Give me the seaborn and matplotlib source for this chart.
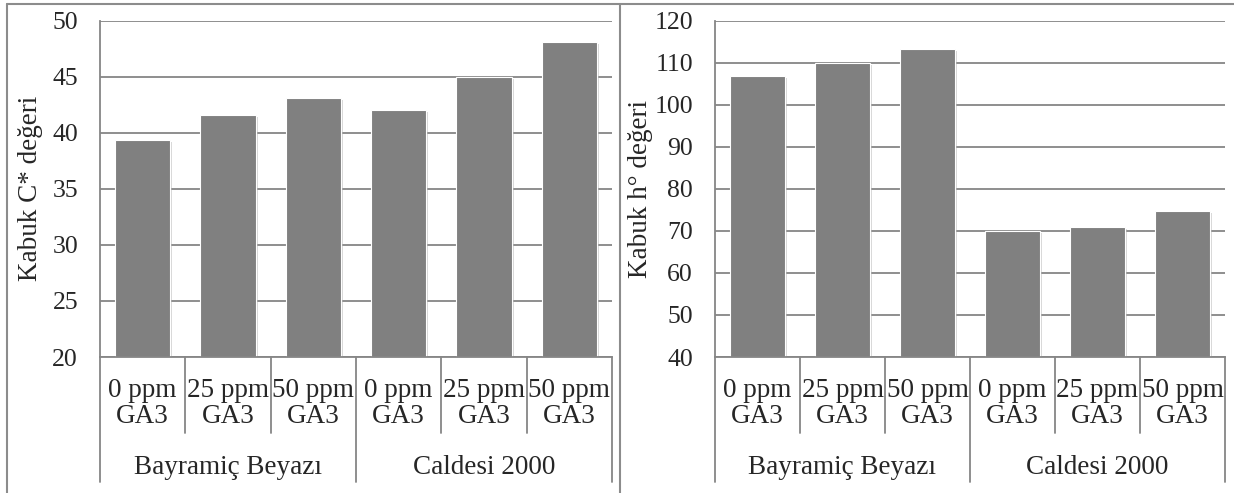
import numpy as np
import pandas as pd
import matplotlib
matplotlib.use("Agg")
import matplotlib.pyplot as plt
import matplotlib.patheffects as pe
import matplotlib.transforms as mtrans
from matplotlib.lines import Line2D
import seaborn as sns

# data
cultivars = ["Bayramiç Beyazı", "Caldesi 2000"]
doses = ["0 ppm\nGA3", "25 ppm\nGA3", "50 ppm\nGA3"]
chroma = [39.4, 41.6, 43.1, 42.0, 45.0, 48.1]
hue_angle = [106.8, 109.9, 113.3, 70.0, 71.0, 74.7]

sns.set_style("white")
plt.rcParams["font.family"] = ["Liberation Serif", "DejaVu Serif"]

df = pd.DataFrame({
    "cultivar": np.repeat(cultivars, len(doses)),
    "dose": doses * len(cultivars),
    "C": chroma,
    "h": hue_angle,
})
df["grp"] = df["cultivar"] + " / " + df["dose"]

grey = "#868686"
fs = 19.5
W, H = 1234, 493
fig = plt.figure(figsize=(W / 100, H / 100), dpi=100)


def panel(left, right, col, ylim, step, ylabel, label_x):
    ax = fig.add_axes([left / W, (H - 357) / H, (right - left) / W, 336.3 / H])
    sns.barplot(data=df, x="grp", y=col, color="#808080", saturation=1,
                width=0.65, edgecolor="white", linewidth=0.8, ax=ax)
    for p in ax.patches:
        p.set_path_effects([pe.SimplePatchShadow(offset=(1.5, -1.5), shadow_rgbFace="#b0b0b0", alpha=0.5),
                            pe.Normal()])
    n = len(df)
    ax.set_xlim(-0.5, n - 0.5)
    ax.set_ylim(*ylim)
    ax.set_yticks(np.arange(ylim[0], ylim[1] + 1, step))
    ax.yaxis.grid(True, color=grey, lw=1.3)
    ax.set_axisbelow(True)
    for s in ["top", "right"]:
        ax.spines[s].set_visible(False)
    for s in ["left", "bottom"]:
        ax.spines[s].set_color(grey)
        ax.spines[s].set_linewidth(1.3)
    ax.tick_params(axis="y", length=5.8, width=1.3, color=grey, pad=10, labelsize=18.5)
    ax.tick_params(axis="x", length=0, pad=15, labelsize=fs)
    ax.set_xticks(range(n))
    ax.set_xticklabels(df["dose"], linespacing=1.05)
    ax.set_xlabel("")
    ax.set_ylabel(ylabel, fontsize=fs)
    ax.yaxis.set_label_coords(label_x, 0.5)

    # multi-level category axis
    tr = mtrans.blended_transform_factory(ax.transData, ax.transAxes)
    short, long_ = -(433 - 357) / 336.3, -(482 - 357) / 336.3
    for b in np.arange(-0.5, n, 1.0):
        is_group = (b + 0.5) % len(doses) == 0
        ax.add_line(Line2D([b, b], [0, long_ if is_group else short], transform=tr,
                           color=grey, lw=1.3, clip_on=False))
    for i, c in enumerate(cultivars):
        mid = i * len(doses) + (len(doses) - 1) / 2
        ax.text(mid, -(468 - 357) / 336.3, c, transform=tr, ha="center", va="center", fontsize=fs)
    return ax


panel(100, 612, "C", (20, 50), 5, "Kabuk C* değeri", -0.112)
panel(715, 1225, "h", (40, 120), 10, "Kabuk h° değeri", -0.122)

# outer chart borders
bc = "#8c8c8c"
fig.add_artist(Line2D([7 / W, 7 / W], [0, 1 - 4 / H], color=bc, lw=1.5))
fig.add_artist(Line2D([7 / W, 1], [1 - 4 / H, 1 - 4 / H], color=bc, lw=1.5))
fig.add_artist(Line2D([620 / W, 620 / W], [0, 1 - 4 / H], color=bc, lw=1.5))

plt.savefig("out.png", dpi=100)
